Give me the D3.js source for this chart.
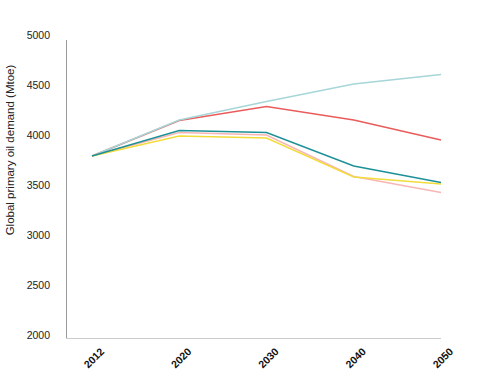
<!DOCTYPE html>
<html>
<head>
<meta charset="utf-8">
<script src="https://cdn.jsdelivr.net/npm/d3@7"></script>
<style>
  body { margin: 0; background: #fff; }
  svg { display: block; font-family: "Liberation Sans", Arial, sans-serif; }
</style>
</head>
<body>
<svg class="chart"></svg>
<script>
var years = ['2012', '2020', '2030', '2040', '2050'];
var yTicks = [2000, 2500, 3000, 3500, 4000, 4500, 5000];

// scenario lines
var seriesHigh   = [3790, 4150, 4335, 4510, 4605];
var seriesRed    = [3790, 4145, 4285, 4150, 3950];
var seriesTeal   = [3790, 4045, 4025, 3690, 3525];
var seriesPink   = [3790, 4025, 4000, 3585, 3425];
var seriesYellow = [3790, 3990, 3970, 3580, 3510];

// drawing order: later ones sit on top
var colors = ['#ea5b5b', '#a6d6d8', '#f7b6b4', '#f2dc3a', '#1c9097'];
var allSeries = [seriesRed, seriesHigh, seriesPink, seriesYellow, seriesTeal];

var width = 486, height = 380;
var chart = d3.select('.chart').attr('width', width).attr('height', height);

var x = d3.scalePoint().domain(years).range([92, 441]);
var y = d3.scaleLinear().domain([2000, 5000]).range([335, 35]);

// axis lines
chart.append('line')
  .attr('x1', 66.5).attr('x2', 66.5)
  .attr('y1', 40).attr('y2', 338)
  .attr('stroke', '#999').attr('stroke-width', 1);
chart.append('line')
  .attr('x1', 66).attr('x2', 441)
  .attr('y1', 338.5).attr('y2', 338.5)
  .attr('stroke', '#ccc').attr('stroke-width', 1.2);

// y tick labels
chart.append('g')
  .selectAll('text')
  .data(yTicks)
  .enter().append('text')
  .attr('x', 50)
  .attr('y', d => y(d))
  .attr('dy', '0.35em')
  .attr('text-anchor', 'end')
  .attr('font-size', 10.5)
  .attr('fill', '#222')
  .text(d => d);

// x tick labels
chart.append('g')
  .selectAll('text')
  .data(years)
  .enter().append('text')
  .attr('transform', d => 'translate(' + (x(d) + 2) + ',358) rotate(-45)')
  .attr('text-anchor', 'middle')
  .attr('dy', '0.35em')
  .attr('font-size', 10.5)
  .attr('font-weight', 'bold')
  .attr('fill', '#111')
  .text(d => d);

// y title
chart.append('text')
  .attr('transform', 'translate(14,150) rotate(-90)')
  .attr('text-anchor', 'middle')
  .attr('font-size', 11.5)
  .attr('fill', '#222')
  .text('Global primary oil demand (Mtoe)');

var line = d3.line()
  .x((d, i) => x(years[i]))
  .y(d => y(d));

chart.append('g')
  .selectAll('path')
  .data(allSeries)
  .enter().append('path')
  .attr('d', d => line(d))
  .attr('fill', 'none')
  .attr('stroke', (d, i) => colors[i])
  .attr('stroke-width', 1.4);
</script>
</body>
</html>
